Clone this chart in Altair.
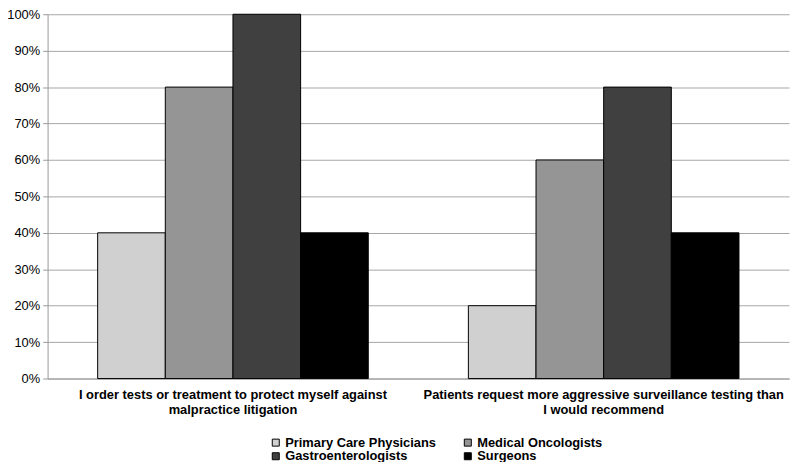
import altair as alt
import pandas as pd

categories = [
    "I order tests or treatment to protect myself against malpractice litigation",
    "Patients request more aggressive surveillance testing than I would recommend",
]
specialties = ["Primary Care Physicians", "Medical Oncologists", "Gastroenterologists", "Surgeons"]
values_cat1 = [0.40, 0.80, 1.00, 0.40]
values_cat2 = [0.20, 0.60, 0.80, 0.40]
colors = ["#d0d0d0", "#959595", "#404040", "#000000"]

rows = []
for cat, vals in zip(categories, [values_cat1, values_cat2]):
    for sp, v in zip(specialties, vals):
        rows.append({"Category": cat, "Specialty": sp, "Value": v})
df = pd.DataFrame(rows)

label_expr = (
    "datum.value == '" + categories[0] + "' ? "
    "['I order tests or treatment to protect myself against', 'malpractice litigation'] : "
    "['Patients request more aggressive surveillance testing than', 'I would recommend']"
)

chart = alt.Chart(df).mark_bar(stroke="#000000", strokeWidth=1).encode(
    x=alt.X(
        "Category:N",
        sort=categories,
        scale=alt.Scale(paddingInner=0.27, paddingOuter=0.135),
        axis=alt.Axis(
            title=None,
            labelAngle=0,
            labelExpr=label_expr,
            labelLimit=0,
            labelFont="Liberation Sans",
            labelFontSize=13,
            labelFontWeight="bold",
            labelColor="#000000",
            labelLineHeight=15,
            labelPadding=10,
            ticks=False,
            domainColor="#999999",
            grid=False,
        ),
    ),
    xOffset=alt.XOffset("Specialty:N", sort=specialties, scale=alt.Scale(paddingInner=0, paddingOuter=0)),
    y=alt.Y(
        "Value:Q",
        scale=alt.Scale(domain=[0, 1], nice=False),
        axis=alt.Axis(
            title=None,
            format=".0%",
            values=[i / 10 for i in range(11)],
            labelFont="Liberation Sans",
            labelFontSize=13,
            labelColor="#000000",
            labelPadding=3,
            tickSize=5,
            tickColor="#999999",
            domainColor="#999999",
            gridColor="#a6a6a6",
            gridWidth=1,
        ),
    ),
    color=alt.Color(
        "Specialty:N",
        sort=specialties,
        scale=alt.Scale(domain=specialties, range=colors),
        legend=alt.Legend(
            title=None,
            orient="none",
            direction="horizontal",
            legendX=224,
            legendY=426,
            columns=2,
            columnPadding=25,
            rowPadding=0,
            symbolType="square",
            symbolSize=50,
            symbolStrokeColor="#000000",
            symbolStrokeWidth=1,
            symbolOffset=0,
            labelFont="Liberation Sans",
            labelFontSize=13,
            labelFontWeight="bold",
            labelColor="#000000",
            labelOffset=3,
            labelLimit=0,
        ),
    ),
).properties(
    width=749,
    height=368,
    padding={"left": 40, "top": 4, "right": 3, "bottom": 82},
    autosize=alt.AutoSizeParams(type="none"),
).configure_view(stroke=None)

chart.save("out.html", embed_options={"renderer": "svg", "actions": False})
